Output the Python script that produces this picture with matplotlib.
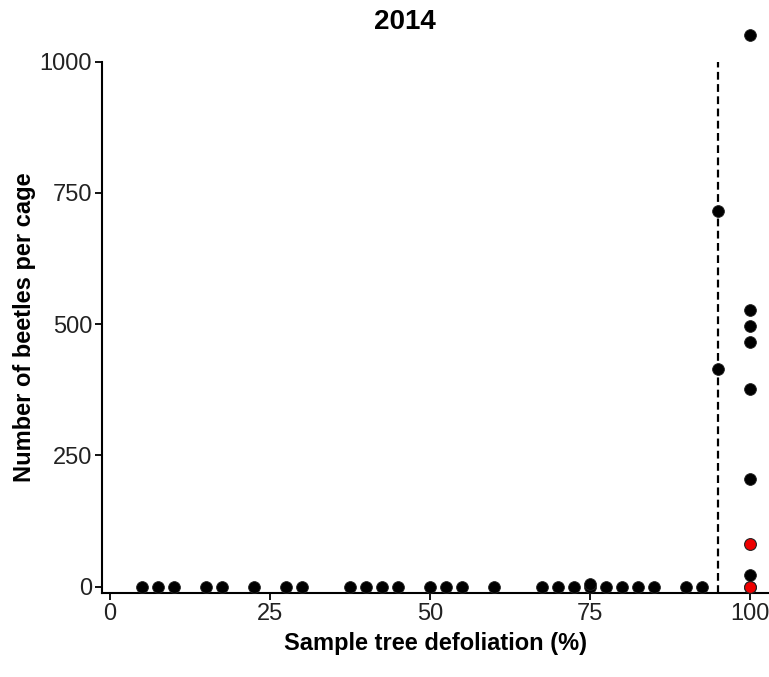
import matplotlib
matplotlib.use("Agg")
import matplotlib.pyplot as plt

plt.rcParams['font.family'] = ['Liberation Sans', 'DejaVu Sans']

# Black points: defoliation (%) and beetles per cage
black_x = [5, 7.5, 10, 15, 17.5, 22.5, 27.5, 30, 37.5, 40, 42.5, 45, 50, 52.5, 55, 60,
           67.5, 70, 72.5, 75, 75, 77.5, 80, 82.5, 85, 90, 92.5,
           95, 95,
           100, 100, 100, 100, 100, 100, 100, 100]
black_y = [0, 0, 0, 0, 0, 0, 0, 0, 0, 0, 0, 0, 0, 0, 0, 0,
           0, 0, 0, 0, 4, 0, 0, 0, 0, 0, 0,
           716, 415,
           1050, 527, 497, 466, 376, 205, 22, 0]
# Red points
red_x = [100, 100]
red_y = [81, 0]

threshold = 95
xticks = [0, 25, 50, 75, 100]
yticks = [0, 250, 500, 750, 1000]

fig = plt.figure(figsize=(7.69, 6.77), dpi=100)
ax = fig.add_axes([0.1326, 0.124, 0.8674, 0.785])

ax.axvline(threshold, color='black', linestyle=(0, (3.5, 2)), linewidth=1.6, zorder=1)
ax.scatter(black_x, black_y, s=72, facecolor='black', edgecolor='#222222', linewidth=0.6, zorder=3, clip_on=False)
ax.scatter(red_x, red_y, s=72, facecolor='#ee0000', edgecolor='#222222', linewidth=0.8, zorder=4, clip_on=False)

ax.set_xlim(-1.25, 103)
ax.set_ylim(-12.4, 1000)
ax.set_xticks(xticks)
ax.set_yticks(yticks)
ax.tick_params(axis='both', direction='out', length=5, width=1.3, labelsize=17, colors='black', pad=2)
ax.tick_params(axis='both', labelcolor='#222222')
for s in ['top', 'right']:
    ax.spines[s].set_visible(False)
for s in ['left', 'bottom']:
    ax.spines[s].set_linewidth(1.5)

ax.set_xlabel('Sample tree defoliation (%)', fontsize=17, fontweight='bold', labelpad=5)
ax.set_ylabel('Number of beetles per cage', fontsize=17, fontweight='bold', labelpad=3)
fig.text(405 / 769, 1 - 22 / 677, '2014', fontsize=20, fontweight='bold', ha='center', va='center')

fig.savefig('out.png', dpi=100)
